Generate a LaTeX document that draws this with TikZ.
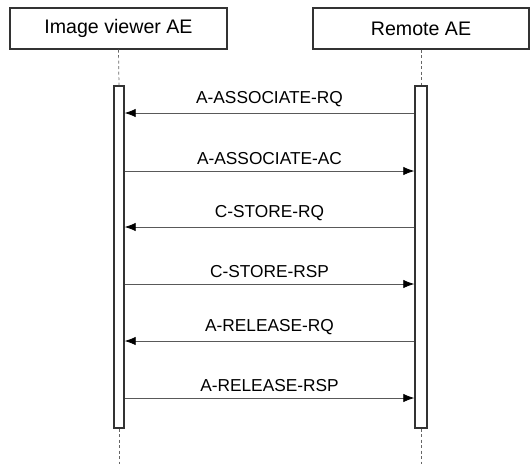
\documentclass[tikz,border=0pt]{standalone}
\usepackage{fontspec}
\setmainfont{Liberation Sans}
\usepackage{tikz}
\usetikzlibrary{arrows.meta,calc}

\begin{document}
\begin{tikzpicture}[x=1pt,y=-1pt,
  actor/.style={draw=black!80,line width=1.2pt,fill=white,minimum width=217pt,minimum height=41pt,font=\fontsize{19.6}{22}\selectfont},
  bar/.style={draw=black!80,line width=1.4pt,fill=white,minimum width=10pt,minimum height=342pt,inner sep=0pt},
  life/.style={draw=black!60,line width=0.7pt,dash pattern=on 3pt off 2.5pt},
  msg/.style={draw=black!65,line width=0.8pt,-{Latex[length=11pt,width=8.5pt,fill=black,color=black]}},
  lab/.style={font=\fontsize{17.3}{20}\selectfont,above=3pt}]
\useasboundingbox (0,0) rectangle (531,464);
% participants
\node[actor] (viewer) at (118.5,28.5) {Image viewer AE};
\node[actor,minimum width=216pt] (remote) at (421,28.5) {Remote AE};
% activations
\node[bar] (viewerbar) at (119,257) {};
\node[bar,minimum width=12pt] (remotebar) at (421,257) {};
\coordinate (viewerend) at (119,464);
\coordinate (remoteend) at (421,464);
\draw[life] (viewer.south) -- (viewerbar.north);
\draw[life] (viewerbar.south) -- (viewerend);
\draw[life] (remote.south) -- (remotebar.north);
\draw[life] (remotebar.south) -- (remoteend);
% messages
\foreach \y/\txt in {113/A-ASSOCIATE-RQ,227/C-STORE-RQ,341/A-RELEASE-RQ}
  \draw[msg] (remotebar.west |- 0,\y) -- node[lab] {\txt} (viewerbar.east |- 0,\y);
\foreach \y/\txt in {171/A-ASSOCIATE-AC,284/C-STORE-RSP,398/A-RELEASE-RSP}
  \draw[msg] (viewerbar.east |- 0,\y) -- node[lab] {\txt} (remotebar.west |- 0,\y);
\end{tikzpicture}
\end{document}
